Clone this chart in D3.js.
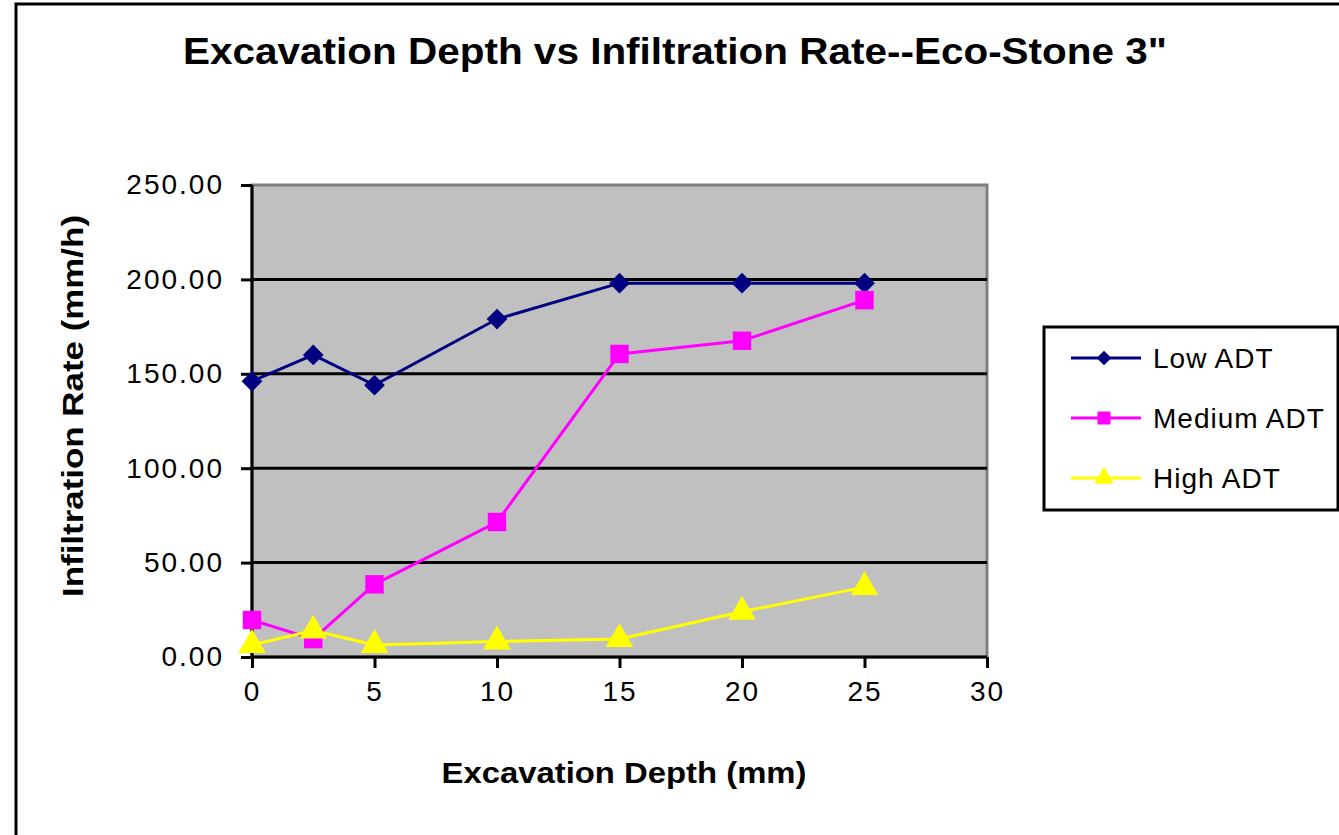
<!DOCTYPE html>
<html>
<head>
<meta charset="utf-8">
<script src="https://d3js.org/d3.v7.min.js"></script>
<style>
  body { margin: 0; background: #fff; }
  text { font-family: "Liberation Sans", Arial, sans-serif; fill: #000; }
</style>
</head>
<body>
<svg width="1339" height="835"></svg>
<script>
const depths = [0, 2.5, 5, 10, 15, 20, 25];
const lowADT = [146, 160, 144, 179, 198, 198, 198];
const mediumADT = [19.6, 9.5, 38.5, 71.5, 160.5, 167.5, 189];
const highADT = [6.4, 14, 6.4, 8.2, 9.5, 24, 37];
const xTicks = [0, 5, 10, 15, 20, 25, 30];
const yTicks = [0, 50, 100, 150, 200, 250];

const series = [
  { name: "Low ADT", values: lowADT, color: "#000080", shape: "diamond" },
  { name: "Medium ADT", values: mediumADT, color: "#ff00ff", shape: "square" },
  { name: "High ADT", values: highADT, color: "#ffff00", shape: "triangle" }
];

// marker path + rotation for each shape
function marker(shape, big) {
  const k = big ? 1 : 0.5;
  if (shape === "diamond") return { d: d3.symbol().type(d3.symbolSquare).size(215 * k)(), rot: 45 };
  if (shape === "square") return { d: d3.symbol().type(d3.symbolSquare).size(340 * k)(), rot: 0 };
  return { d: d3.symbol().type(d3.symbolTriangle).size(330 * k)(), rot: 0 };
}

const svg = d3.select("svg");

// outer chart frame
svg.append("rect")
  .attr("x", 16).attr("y", 4)
  .attr("width", 1340).attr("height", 850)
  .attr("fill", "#fff").attr("stroke", "#000").attr("stroke-width", 3);

const plot = { left: 252, top: 185, right: 987, bottom: 657 };

const x = d3.scaleLinear().domain([0, 30]).range([plot.left, plot.right]);
const y = d3.scaleLinear().domain([0, 250]).range([plot.bottom, plot.top]);

// plot background
svg.append("rect")
  .attr("x", plot.left).attr("y", plot.top)
  .attr("width", plot.right - plot.left).attr("height", plot.bottom - plot.top)
  .attr("fill", "#c0c0c0").attr("stroke", "#808080").attr("stroke-width", 3);

// gridlines
svg.append("g").selectAll("line")
  .data(yTicks.filter(d => d > 0 && d < 250))
  .enter().append("line")
  .attr("x1", plot.left).attr("x2", plot.right)
  .attr("y1", d => y(d)).attr("y2", d => y(d))
  .attr("stroke", "#000").attr("stroke-width", 3);

// axes
const yAxis = svg.append("g")
  .attr("transform", "translate(" + plot.left + ",0)")
  .call(d3.axisLeft(y).tickValues(yTicks).tickFormat(d3.format(".2f")).tickSize(11).tickPadding(17));
const xAxis = svg.append("g")
  .attr("transform", "translate(0," + plot.bottom + ")")
  .call(d3.axisBottom(x).tickValues(xTicks).tickSize(11).tickPadding(13));

[yAxis, xAxis].forEach(g => {
  g.select(".domain").attr("stroke", "#000").attr("stroke-width", 3);
  g.selectAll(".tick line").attr("stroke", "#000").attr("stroke-width", 3);
  g.selectAll(".tick text")
    .style("font-family", "'Liberation Sans', Arial, sans-serif")
    .style("font-size", "28px").style("letter-spacing", "2px").attr("fill", "#000");
});
xAxis.select(".domain").attr("d", "M" + plot.left + ",0H" + plot.right);
yAxis.select(".domain").attr("d", "M0," + plot.top + "V" + plot.bottom);

// lines and markers
const line = d3.line().x((d, i) => x(depths[i])).y(d => y(d));
series.forEach(s => {
  svg.append("path")
    .datum(s.values)
    .attr("d", line)
    .attr("fill", "none").attr("stroke", s.color).attr("stroke-width", 3);
  const m = marker(s.shape, true);
  svg.append("g").selectAll("path")
    .data(s.values)
    .enter().append("path")
    .attr("transform", (d, i) => "translate(" + x(depths[i]) + "," + y(d) + ") rotate(" + m.rot + ")")
    .attr("d", m.d)
    .attr("fill", s.color);
});

// titles
svg.append("text")
  .attr("x", 675).attr("y", 64).attr("text-anchor", "middle")
  .attr("textLength", 984).attr("lengthAdjust", "spacingAndGlyphs")
  .style("font-size", "36px").style("font-weight", "bold")
  .text("Excavation Depth vs Infiltration Rate--Eco-Stone 3\"");

svg.append("text")
  .attr("x", 624).attr("y", 783).attr("text-anchor", "middle")
  .attr("textLength", 365).attr("lengthAdjust", "spacingAndGlyphs")
  .style("font-size", "29px").style("font-weight", "bold")
  .text("Excavation Depth (mm)");

svg.append("text")
  .attr("transform", "translate(83,406) rotate(-90)")
  .attr("text-anchor", "middle")
  .attr("textLength", 382).attr("lengthAdjust", "spacingAndGlyphs")
  .style("font-size", "29px").style("font-weight", "bold")
  .text("Infiltration Rate (mm/h)");

// legend
const legend = svg.append("g");
legend.append("rect")
  .attr("x", 1044).attr("y", 327).attr("width", 294).attr("height", 183)
  .attr("fill", "#fff").attr("stroke", "#000").attr("stroke-width", 3);
series.forEach((s, i) => {
  const ly = 358 + i * 60;
  legend.append("line")
    .attr("x1", 1071).attr("x2", 1141).attr("y1", ly).attr("y2", ly)
    .attr("stroke", s.color).attr("stroke-width", 3);
  const m = marker(s.shape, false);
  legend.append("path")
    .attr("transform", "translate(1104," + ly + ") rotate(" + m.rot + ")")
    .attr("d", m.d)
    .attr("fill", s.color);
  legend.append("text")
    .attr("x", 1153).attr("y", ly + 10)
    .style("font-size", "28px").style("letter-spacing", "1px")
    .text(s.name);
});
</script>
</body>
</html>
